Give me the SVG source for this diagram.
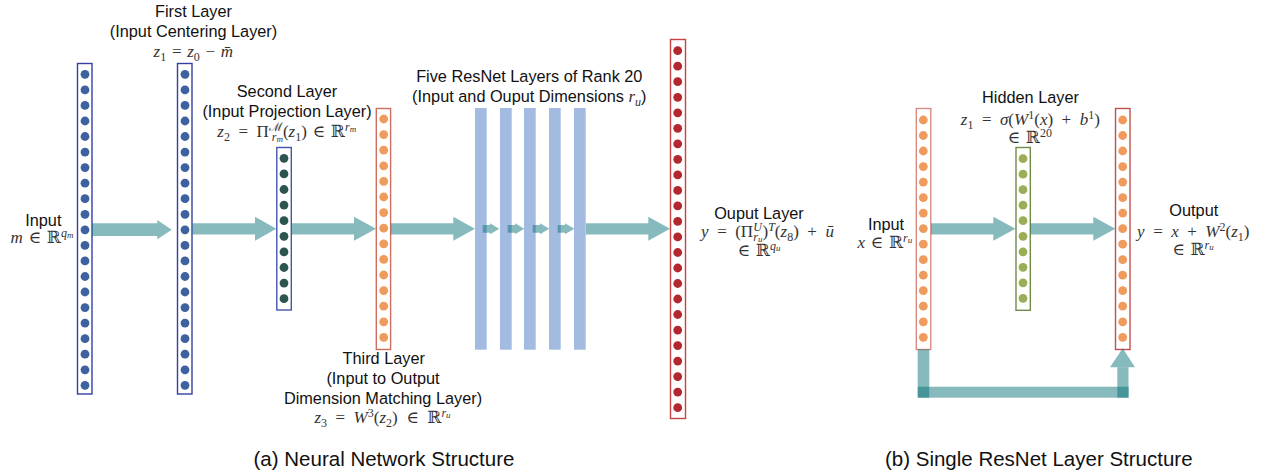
<svg xmlns="http://www.w3.org/2000/svg" width="1269" height="475" viewBox="0 0 1269 475">
<style>
.lbl{font-family:"Liberation Sans",Arial,sans-serif;font-size:16.3px;fill:#111;text-anchor:middle}
.cap{font-size:20.5px}
.m{font-family:"Liberation Serif","DejaVu Serif",serif;font-size:17px;fill:#333;text-anchor:middle}
.i{font-style:italic}
.sb{font-size:12px;baseline-shift:-3.5px}
.sp{font-size:12px;baseline-shift:6.5px}
.ssb{font-size:9px;baseline-shift:-1.5px}
.db circle{fill:#3e62a0}
.dg circle{fill:#2c5550}
.do circle{fill:#ee9b5d}
.dr circle{fill:#b3272f}
.dl circle{fill:#9bad56}
circle{r:4.4px}
.bx{fill:#fff;stroke-width:1.4}
.bar{fill:#a3bbe1}
.ar{fill:#006d72;fill-opacity:0.47}
</style>

<g id="resnet-bars">
<rect class="bar" x="475" y="108" width="11.7" height="241.7"/>
<rect class="bar" x="500" y="108" width="11.7" height="241.7"/>
<rect class="bar" x="524" y="108" width="11.7" height="241.7"/>
<rect class="bar" x="549" y="108" width="11.7" height="241.7"/>
<rect class="bar" x="574" y="108" width="11.7" height="241.7"/>
</g>

<g id="input-layer">
<rect class="bx" x="77.5" y="63.5" width="14.5" height="330.5" stroke="#3340a2"/>
<g class="db" transform="translate(85,0)">
<circle cx="0" cy="74.3"/><circle cx="0" cy="89.9"/><circle cx="0" cy="105.4"/><circle cx="0" cy="121"/><circle cx="0" cy="136.5"/><circle cx="0" cy="152.1"/><circle cx="0" cy="167.6"/><circle cx="0" cy="183.2"/><circle cx="0" cy="198.7"/><circle cx="0" cy="214.3"/><circle cx="0" cy="229.8"/><circle cx="0" cy="245.4"/><circle cx="0" cy="260.9"/><circle cx="0" cy="276.5"/><circle cx="0" cy="292"/><circle cx="0" cy="307.6"/><circle cx="0" cy="323.1"/><circle cx="0" cy="338.7"/><circle cx="0" cy="354.2"/><circle cx="0" cy="369.8"/><circle cx="0" cy="385.3"/>
</g>
<text class="lbl" x="43.3" y="226">Input</text>
<text class="m" x="42" y="243.3"><tspan class="i">m</tspan>&#8196;∈&#8196;ℝ<tspan class="sp i">q<tspan class="ssb">m</tspan></tspan></text>
</g>

<g id="first-layer">
<rect class="bx" x="177.5" y="63.5" width="14.5" height="330.5" stroke="#3340a2"/>
<g class="db" transform="translate(185,0)">
<circle cx="0" cy="74.3"/><circle cx="0" cy="89.9"/><circle cx="0" cy="105.4"/><circle cx="0" cy="121"/><circle cx="0" cy="136.5"/><circle cx="0" cy="152.1"/><circle cx="0" cy="167.6"/><circle cx="0" cy="183.2"/><circle cx="0" cy="198.7"/><circle cx="0" cy="214.3"/><circle cx="0" cy="229.8"/><circle cx="0" cy="245.4"/><circle cx="0" cy="260.9"/><circle cx="0" cy="276.5"/><circle cx="0" cy="292"/><circle cx="0" cy="307.6"/><circle cx="0" cy="323.1"/><circle cx="0" cy="338.7"/><circle cx="0" cy="354.2"/><circle cx="0" cy="369.8"/><circle cx="0" cy="385.3"/>
</g>
<text class="lbl" x="193.5" y="17.3">First Layer</text>
<text class="lbl" x="193.5" y="36.5">(Input Centering Layer)</text>
<text class="m" x="193.3" y="56.5"><tspan class="i">z</tspan><tspan class="sb">1</tspan>&#8196;=&#8196;<tspan class="i">z</tspan><tspan class="sb">0</tspan>&#8196;−&#8196;<tspan class="i">m̄</tspan></text>
</g>

<g id="second-layer">
<rect class="bx" x="276.8" y="147.5" width="14.5" height="162.5" stroke="#4455b0"/>
<g class="dg" transform="translate(284,0)">
<circle cx="0" cy="158.3"/><circle cx="0" cy="173.9"/><circle cx="0" cy="189.5"/><circle cx="0" cy="205.1"/><circle cx="0" cy="220.7"/><circle cx="0" cy="236.3"/><circle cx="0" cy="251.9"/><circle cx="0" cy="267.5"/><circle cx="0" cy="283.1"/><circle cx="0" cy="298.7"/>
</g>
<text class="lbl" x="287" y="96.7">Second Layer</text>
<text class="lbl" x="287" y="116.5">(Input Projection Layer)</text>
<text class="m" x="286.7" y="136.5"><tspan class="i">z</tspan><tspan class="sb">2</tspan>&#8194;=&#8194;Π<tspan class="sp">ℳ</tspan><tspan class="sb i" dx="-11">r<tspan class="ssb">m</tspan></tspan>(<tspan class="i">z</tspan><tspan class="sb">1</tspan>)&#8196;∈&#8196;ℝ<tspan class="sp i">r<tspan class="ssb">m</tspan></tspan></text>
</g>

<g id="third-layer">
<rect class="bx" x="376.3" y="108.5" width="14.3" height="241" stroke="#cf6e5f"/>
<g class="do" transform="translate(383.7,0)">
<circle cx="0" cy="119"/><circle cx="0" cy="134.6"/><circle cx="0" cy="150.2"/><circle cx="0" cy="165.8"/><circle cx="0" cy="181.4"/><circle cx="0" cy="197"/><circle cx="0" cy="212.6"/><circle cx="0" cy="228.2"/><circle cx="0" cy="243.8"/><circle cx="0" cy="259.4"/><circle cx="0" cy="275"/><circle cx="0" cy="290.6"/><circle cx="0" cy="306.2"/><circle cx="0" cy="321.8"/><circle cx="0" cy="337.4"/>
</g>
<text class="lbl" x="383.7" y="364">Third Layer</text>
<text class="lbl" x="383" y="384">(Input to Output</text>
<text class="lbl" x="383" y="404">Dimension Matching Layer)</text>
<text class="m" x="382.5" y="423.3"><tspan class="i">z</tspan><tspan class="sb">3</tspan>&#8194;=&#8194;<tspan class="i">W</tspan><tspan class="sp">3</tspan>(<tspan class="i">z</tspan><tspan class="sb">2</tspan>)&#8194;∈&#8194;ℝ<tspan class="sp i">r<tspan class="ssb">u</tspan></tspan></text>
</g>

<g id="resnet-label">
<text class="lbl" x="529.3" y="81.7">Five ResNet Layers of Rank 20</text>
<text class="lbl" x="529.3" y="101.7">(Input and Ouput Dimensions <tspan class="m i" style="font-size:17px">r<tspan class="sb">u</tspan></tspan>)</text>
</g>

<g id="output-layer">
<rect class="bx" x="670.5" y="39.5" width="15" height="379" stroke="#c8433f"/>
<g class="dr" transform="translate(677.7,0)">
<circle cx="0" cy="50.7"/><circle cx="0" cy="66.2"/><circle cx="0" cy="81.7"/><circle cx="0" cy="97.3"/><circle cx="0" cy="112.8"/><circle cx="0" cy="128.3"/><circle cx="0" cy="143.8"/><circle cx="0" cy="159.3"/><circle cx="0" cy="174.9"/><circle cx="0" cy="190.4"/><circle cx="0" cy="205.9"/><circle cx="0" cy="221.4"/><circle cx="0" cy="236.9"/><circle cx="0" cy="252.5"/><circle cx="0" cy="268"/><circle cx="0" cy="283.5"/><circle cx="0" cy="299"/><circle cx="0" cy="314.5"/><circle cx="0" cy="330.1"/><circle cx="0" cy="345.6"/><circle cx="0" cy="361.1"/><circle cx="0" cy="376.6"/><circle cx="0" cy="392.1"/><circle cx="0" cy="407.7"/>
</g>
<text class="lbl" x="759" y="219.3">Ouput Layer</text>
<text class="m" x="767.5" y="236.7"><tspan class="i">y</tspan>&#8194;=&#8194;(Π<tspan class="sp i">U</tspan><tspan class="sb i" dx="-8.5">r<tspan class="ssb">u</tspan></tspan>)<tspan class="sp i">T</tspan>(<tspan class="i">z</tspan><tspan class="sb">8</tspan>)&#8194;+&#8194;<tspan class="i">ū</tspan></text>
<text class="m" x="759" y="256">∈&#8196;ℝ<tspan class="sp i">q<tspan class="ssb">u</tspan></tspan></text>
</g>

<g id="res-input">
<rect class="bx" x="916.3" y="108.5" width="14.5" height="241" stroke="#d98b80"/>
<g class="do" transform="translate(923.3,0)">
<circle cx="0" cy="120"/><circle cx="0" cy="135.5"/><circle cx="0" cy="151"/><circle cx="0" cy="166.6"/><circle cx="0" cy="182.1"/><circle cx="0" cy="197.6"/><circle cx="0" cy="213.1"/><circle cx="0" cy="228.6"/><circle cx="0" cy="244.2"/><circle cx="0" cy="259.7"/><circle cx="0" cy="275.2"/><circle cx="0" cy="290.7"/><circle cx="0" cy="306.2"/><circle cx="0" cy="321.8"/><circle cx="0" cy="337.3"/>
</g>
<text class="lbl" x="886" y="230">Input</text>
<text class="m" x="884.8" y="248.3"><tspan class="i">x</tspan>&#8196;∈&#8196;ℝ<tspan class="sp i">r<tspan class="ssb">u</tspan></tspan></text>
</g>

<g id="res-hidden">
<rect class="bx" x="1016" y="147.5" width="14.3" height="162.8" stroke="#6f8b45"/>
<g class="dl" transform="translate(1023,0)">
<circle cx="0" cy="158.7"/><circle cx="0" cy="174.2"/><circle cx="0" cy="189.7"/><circle cx="0" cy="205.2"/><circle cx="0" cy="220.7"/><circle cx="0" cy="236.3"/><circle cx="0" cy="251.8"/><circle cx="0" cy="267.3"/><circle cx="0" cy="282.8"/><circle cx="0" cy="298.3"/>
</g>
<text class="lbl" x="1030.5" y="103.3">Hidden Layer</text>
<text class="m" x="1030.3" y="125"><tspan class="i">z</tspan><tspan class="sb">1</tspan>&#8194;=&#8194;<tspan class="i">σ</tspan>(<tspan class="i">W</tspan><tspan class="sp">1</tspan>(<tspan class="i">x</tspan>)&#8194;+&#8194;<tspan class="i">b</tspan><tspan class="sp">1</tspan>)</text>
<text class="m" x="1029.7" y="143">∈&#8196;ℝ<tspan class="sp">20</tspan></text>
</g>

<g id="res-output">
<rect class="bx" x="1115.5" y="108.5" width="14.5" height="241" stroke="#c0504a"/>
<g class="do" transform="translate(1122.7,0)">
<circle cx="0" cy="120"/><circle cx="0" cy="135.5"/><circle cx="0" cy="151"/><circle cx="0" cy="166.6"/><circle cx="0" cy="182.1"/><circle cx="0" cy="197.6"/><circle cx="0" cy="213.1"/><circle cx="0" cy="228.6"/><circle cx="0" cy="244.2"/><circle cx="0" cy="259.7"/><circle cx="0" cy="275.2"/><circle cx="0" cy="290.7"/><circle cx="0" cy="306.2"/><circle cx="0" cy="321.8"/><circle cx="0" cy="337.3"/>
</g>
<text class="lbl" x="1193.8" y="216">Output</text>
<text class="m" x="1193.3" y="236.7"><tspan class="i">y</tspan>&#8194;=&#8194;<tspan class="i">x</tspan>&#8194;+&#8194;<tspan class="i">W</tspan><tspan class="sp">2</tspan>(<tspan class="i">z</tspan><tspan class="sb">1</tspan>)</text>
<text class="m" x="1193" y="255">∈&#8196;ℝ<tspan class="sp i">r<tspan class="ssb">u</tspan></tspan></text>
</g>

<g id="connectors">
<polygon class="ar" points="92,223.3 157.3,223.3 157.3,220 171.7,229.7 157.3,239.3 157.3,236 92,236"/>
<polygon class="ar" points="192.5,223.3 255,223.3 255,216.7 276.3,228.8 255,240.8 255,234.5 192.5,234.5"/>
<polygon class="ar" points="291.8,223.3 354,223.3 354,216.7 376,228.8 354,240.8 354,234.5 291.8,234.5"/>
<polygon class="ar" points="390.8,223.3 453.3,223.3 453.3,216.7 475,228.8 453.3,240.8 453.3,234.5 390.8,234.5"/>
<polygon class="ar" points="482.7,225 490,225 490,223.3 499.3,228.8 490,234.3 490,232.7 482.7,232.7"/>
<polygon class="ar" points="507.7,225 515,225 515,223.3 524.3,228.8 515,234.3 515,232.7 507.7,232.7"/>
<polygon class="ar" points="532.7,225 540,225 540,223.3 549.3,228.8 540,234.3 540,232.7 532.7,232.7"/>
<polygon class="ar" points="557.7,225 565,225 565,223.3 574.3,228.8 565,234.3 565,232.7 557.7,232.7"/>
<polygon class="ar" points="586,223.3 648.3,223.3 648.3,216.7 670,228.8 648.3,240.8 648.3,234.5 586,234.5"/>
<polygon class="ar" points="931,223.3 993.3,223.3 993.3,216.7 1015.5,228.8 993.3,240.8 993.3,234.5 931,234.5"/>
<polygon class="ar" points="1030.5,223.3 1093.3,223.3 1093.3,216.7 1115.3,228.8 1093.3,240.8 1093.3,234.5 1030.5,234.5"/>
<rect class="ar" x="917.7" y="349.3" width="11.6" height="48.4"/>
<rect class="ar" x="917.7" y="386.7" width="211" height="11"/>
<rect class="ar" x="1117.3" y="367.3" width="11.2" height="30.4"/>
<polygon class="ar" points="1110,367.3 1135,367.3 1122.7,348.3"/>
</g>

<g id="captions">
<text class="lbl cap" x="384" y="466">(a) Neural Network Structure</text>
<text class="lbl cap" x="1038.8" y="465.7">(b) Single ResNet Layer Structure</text>
</g>
</svg>
